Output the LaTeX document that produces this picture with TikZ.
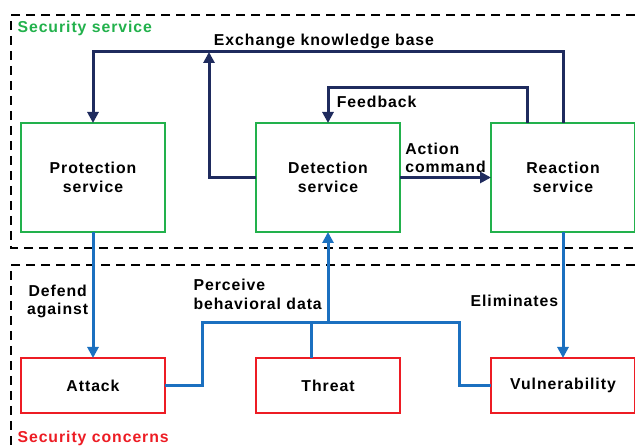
\documentclass[tikz,border=0pt]{standalone}
\usepackage{fontspec}
\setmainfont{Liberation Sans}[LetterSpace=6]
\usepackage{xcolor}
\usepackage{tikz}
\usetikzlibrary{arrows.meta,positioning}
\definecolor{cNavy}{HTML}{1F2B5E}
\definecolor{cBlue}{HTML}{1B70C0}
\definecolor{cGreen}{HTML}{22B14C}
\definecolor{cRed}{HTML}{ED1C24}
\tikzset{
  svcbox/.style={draw=cGreen,line width=2.6pt,minimum width=144pt,minimum height=109pt,align=center,outer sep=0pt},
  concbox/.style={draw=cRed,line width=2.6pt,minimum width=144pt,minimum height=55pt,align=center,outer sep=0pt},
  kflow/.style={draw=cNavy,line width=3pt,-{Triangle[length=11pt,width=11pt]}},
  bflow/.style={draw=cBlue,line width=3pt,-{Triangle[length=11pt,width=11pt]}},
  bline/.style={draw=cBlue,line width=3pt},
  zone/.style={draw=black,line width=2.6pt,dash pattern=on 9pt off 6pt},
  lbl/.style={text=black,align=center}
}

\begin{document}
\begin{tikzpicture}[x=1pt,y=1pt,node distance=91pt,font=\bfseries\fontsize{15.8}{18.5}\selectfont]
    \useasboundingbox (0,0) rectangle (635,447);

    % Zones
    \draw[zone] (635,432) -| (11,199) -- (635,199);
    \draw[zone] (635,182) -| (11,0);
    \node[lbl, text=cGreen, anchor=west] (svc) at (14,419) {Security service};
    \node[lbl, text=cRed, anchor=west] (conc) at (14,9) {Security concerns};

    % Nodes
    \node[svcbox] (prot) at (93,269.5) {Protection\\service};
    \node[svcbox, right=of prot] (det) {Detection\\service};
    \node[svcbox, right=of det] (reac) {Reaction\\service};
    \node[concbox, below=126pt of prot] (attack) {Attack};
    \node[concbox, right=of attack] (threat) {Threat};
    \node[concbox, right=of threat] (vuln) {Vulnerability};
    \coordinate (kbj) at (209,395);
    \coordinate (busl) at (202,124);
    \coordinate (busr) at (459,124);

    % Paths
    \draw[kflow] (reac.north) -- ++(0,71) -| node[lbl, pos=0.25, above, yshift=-2pt, xshift=-4pt] {Exchange knowledge base} (prot.north);
    \draw[kflow] (det.west) -| (kbj);
    \draw[kflow] ([xshift=-36pt]reac.north) |- ([yshift=35pt]det.north) node[lbl, below right, xshift=4pt, yshift=-3pt] {Feedback} -- (det.north);
    \draw[kflow] (det.east) -- node[lbl, above, align=left] {Action\\command} (reac.west);
    \draw[bflow] (prot.south) -- node[lbl, left, pos=0.55] {Defend\\against} (attack.north);
    \draw[bflow] (reac.south) -- node[lbl, left, pos=0.55] {Eliminates} (vuln.north);
    \draw[bline] (attack.east) -| (busl) -- (busr) |- (vuln.west);
    \draw[bline] ([xshift=-17pt]threat.north) -- ([xshift=-17pt]threat.north |- busl);
    \draw[bflow] (det.south |- busl) -- (det.south);
    \node[lbl, align=left, above right=10pt and -12pt of busl] (perc) {Perceive\\behavioral data};
  \end{tikzpicture}
\end{document}
